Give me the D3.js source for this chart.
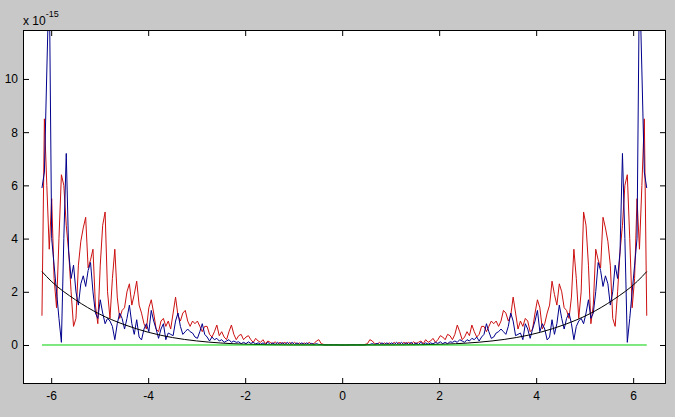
<!DOCTYPE html>
<html><head><meta charset="utf-8">
<script src="https://cdn.jsdelivr.net/npm/d3@7"></script>
<style>body{margin:0;background:#c8c8c8;} svg{display:block}</style>
</head><body><svg width="675" height="417"></svg>
<script>
// sampling grid (data units)
const xStart = -6.19, xStep = 0.05008;
// series values (units of 1e-15)
const redVals = [
1.1,8.5,6.0,3.6,5.5,2.5,1.4,4.0,6.4,6.0,
4.5,3.5,2.0,0.7,1.0,3.0,3.9,4.4,4.8,2.9,
3.2,3.6,1.5,0.8,3.0,4.5,5.0,2.0,1.0,2.5,
3.6,1.8,1.0,1.3,1.4,2.0,2.3,1.5,1.9,2.4,
1.5,1.2,0.8,0.6,1.4,1.7,1.2,0.6,0.5,0.9,
1.0,0.7,0.9,0.6,1.2,1.8,1.1,0.9,1.2,1.3,
0.9,0.7,0.9,0.8,0.9,0.7,0.5,0.7,0.7,0.4,
0.3,0.5,0.75,0.35,0.5,0.3,0.2,0.5,0.75,0.4,
0.2,0.35,0.4,0.2,0.3,0.35,0.2,0.1,0.25,0.15,
0.1,0.2,0.05,0.15,0.1,0.05,0.12,0.03,0.1,0.05,
0.1,0.02,0.1,0.02,0.1,0.02,0.08,0.02,0.08,0.02,
0.1,0.03,0.05,0.15,0.2,0.05,0.02,0.0,0.01,0.0,
0.01,0.0,0.01,0.0,0.0,
0.0,0.0,0.01,0.0,0.01,
0.0,0.01,0.0,0.02,0.05,0.2,0.15,0.05,0.03,0.1,
0.02,0.08,0.02,0.08,0.02,0.1,0.02,0.1,0.02,0.1,
0.05,0.1,0.03,0.12,0.05,0.1,0.15,0.05,0.2,0.1,
0.15,0.25,0.1,0.2,0.35,0.3,0.2,0.4,0.35,0.2,
0.4,0.75,0.5,0.2,0.3,0.5,0.35,0.75,0.5,0.3,
0.4,0.7,0.7,0.5,0.7,0.9,0.8,0.9,0.7,0.9,
1.3,1.2,0.9,1.1,1.8,1.2,0.6,0.9,0.7,1.0,
0.9,0.5,0.6,1.2,1.7,1.4,0.6,0.8,1.2,1.5,
2.4,1.9,1.5,2.3,2.0,1.4,1.3,1.0,1.8,3.6,
2.5,1.0,2.0,5.0,4.5,3.0,0.8,1.5,3.6,3.2,
2.9,4.8,4.4,3.9,3.0,1.0,0.7,2.0,3.5,4.5,
6.0,6.4,4.0,1.4,2.5,5.5,3.6,6.0,8.5,1.1];
const blueVals = [
5.9,6.5,10.3,14.0,4.0,3.0,2.0,1.0,0.1,4.0,
7.2,3.5,2.5,3.0,2.0,1.5,2.3,2.6,2.2,2.8,
3.1,2.0,1.2,1.0,1.7,1.2,0.8,1.0,0.9,0.7,
0.2,0.8,1.2,1.0,0.6,1.0,1.5,0.8,0.4,0.95,
0.3,0.19,0.6,0.8,0.5,1.3,0.9,0.6,0.25,0.6,
0.8,0.2,0.45,0.4,0.35,0.9,1.2,0.7,0.4,0.5,
0.6,0.5,0.45,0.3,0.25,0.5,0.8,0.4,0.3,0.15,
0.3,0.2,0.25,0.15,0.2,0.1,0.15,0.2,0.1,0.15,
0.1,0.12,0.05,0.1,0.05,0.12,0.06,0.1,0.04,0.08,
0.03,0.08,0.02,0.1,0.02,0.08,0.02,0.1,0.02,0.09,
0.02,0.1,0.02,0.1,0.02,0.08,0.02,0.08,0.02,0.08,
0.02,0.06,0.02,0.05,0.02,0.02,0.0,0.01,0.0,0.01,
0.0,0.01,0.0,0.0,0.0,
0.0,0.0,0.0,0.01,0.0,
0.01,0.0,0.01,0.0,0.02,0.02,0.05,0.02,0.06,0.02,
0.08,0.02,0.08,0.02,0.08,0.02,0.1,0.02,0.1,0.02,
0.09,0.02,0.1,0.02,0.08,0.02,0.1,0.02,0.08,0.03,
0.08,0.04,0.1,0.06,0.12,0.05,0.1,0.05,0.12,0.1,
0.15,0.1,0.2,0.15,0.1,0.2,0.15,0.25,0.2,0.3,
0.15,0.3,0.4,0.8,0.5,0.25,0.3,0.45,0.5,0.6,
0.5,0.4,0.7,1.2,0.9,0.35,0.4,0.45,0.2,0.8,
0.6,0.25,0.6,0.9,1.3,0.5,0.8,0.6,0.19,0.3,
0.95,0.4,0.8,1.5,1.0,0.6,1.0,1.2,0.8,0.2,
0.7,0.9,1.0,0.8,1.2,1.7,1.0,1.2,2.0,3.1,
2.8,2.2,2.6,2.3,1.5,2.0,3.0,2.5,3.5,7.2,
4.0,0.1,1.0,2.0,3.0,4.0,14.0,10.3,6.5,5.9];
const blackX = [-6.19,-6,-5.5,-5,-4.5,-4,-3.5,-3,-2.5,-2,-1.5,-1,-0.5,0.045,0.59,1.09,1.59,2.09,2.59,3.09,3.59,4.09,4.59,5.09,5.59,6.09,6.28];
const blackY = [2.76,2.4,1.7,1.16,0.77,0.48,0.28,0.153,0.074,0.03,0.01,0.002,0.0,0.0,0.0,0.002,0.01,0.03,0.074,0.153,0.28,0.48,0.77,1.16,1.7,2.4,2.76];
const zeroX = [-6.19, 6.28];
const zeroY = [0, 0];
const xTicks = [-6,-4,-2,0,2,4,6];
const yTicks = [0,2,4,6,8,10];
const expText = "-15";

const svg = d3.select("svg");
const L=23, R=666, T=30, B=384;
const x = d3.scaleLinear().domain([-6.581, 6.677]).range([L, R]);
const y = d3.scaleLinear().domain([-1.466, 11.84]).range([B, T]);

svg.append("rect").attr("x",L).attr("y",T).attr("width",R-L).attr("height",B-T).attr("fill","#fff");
svg.append("clipPath").attr("id","clip").append("rect").attr("x",L).attr("y",T).attr("width",R-L).attr("height",B-T);

const g = svg.append("g").attr("clip-path","url(#clip)");
const gridX = i => xStart + i*xStep;
const line = d3.line().x(d=>x(d[0])).y(d=>y(d[1]));
const mk = vals => vals.map((v,i)=>[gridX(i), v]);

g.append("path").attr("d", line(mk(redVals))).attr("fill","none").attr("stroke","#cc1010").attr("stroke-width",1);
g.append("path").attr("d", line(mk(blueVals))).attr("fill","none").attr("stroke","#00008c").attr("stroke-width",1);
g.append("path").attr("d", d3.line().x(d=>x(d[0])).y(d=>y(d[1])).curve(d3.curveMonotoneX)(blackX.map((v,i)=>[v,blackY[i]]))).attr("fill","none").attr("stroke","#000").attr("stroke-width",1);
g.append("path").attr("d", line(zeroX.map((v,i)=>[v,zeroY[i]]))).attr("fill","none").attr("stroke","#00d000").attr("stroke-width",1);

const fmt = d=>String(d);
const font = "'Liberation Sans', Arial, sans-serif";
function style(ax){ ax.select(".domain").remove(); ax.selectAll("line").attr("stroke","#000"); ax.selectAll("text").attr("font-family",font).attr("font-size",12).attr("fill","#000"); }
const ab = svg.append("g").attr("transform",`translate(0,${B})`).call(d3.axisBottom(x).tickValues(xTicks).tickFormat(fmt).tickSizeInner(-6).tickSizeOuter(0).tickPadding(7));
style(ab);
const at = svg.append("g").attr("transform",`translate(0,${T})`).call(d3.axisTop(x).tickValues(xTicks).tickFormat("").tickSizeInner(-6).tickSizeOuter(0));
style(at);
const al = svg.append("g").attr("transform",`translate(${L},0)`).call(d3.axisLeft(y).tickValues(yTicks).tickFormat(fmt).tickSizeInner(-6).tickSizeOuter(0).tickPadding(5));
style(al);
const ar = svg.append("g").attr("transform",`translate(${R},0)`).call(d3.axisRight(y).tickValues(yTicks).tickFormat("").tickSizeInner(-6).tickSizeOuter(0));
style(ar);

svg.append("rect").attr("x",L+0.5).attr("y",T+0.5).attr("width",R-L-1).attr("height",B-T-1).attr("fill","none").attr("stroke","#000");

const t = svg.append("text").attr("x",L).attr("y",25).attr("font-family",font).attr("font-size",12).attr("fill","#000");
t.append("tspan").text("x 10");
t.append("tspan").attr("dy",-8).attr("font-size",9).text(expText);
</script>
</body></html>
